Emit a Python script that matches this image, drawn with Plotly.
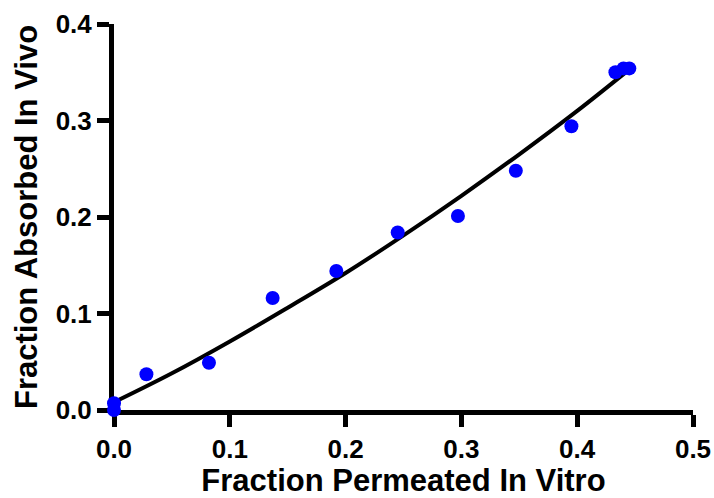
import plotly.graph_objects as go

# Measured fraction permeated in vitro vs fraction absorbed in vivo
frac_permeated = [0.0, 0.0, 0.028, 0.082, 0.137, 0.192, 0.245, 0.297, 0.347, 0.395, 0.433, 0.440, 0.445]
frac_absorbed = [0.000, 0.007, 0.037, 0.049, 0.116, 0.144, 0.184, 0.201, 0.248, 0.294, 0.350, 0.354, 0.354]

# Fitted correlation curve, sampled along x
fit_x = [0.0, 0.05, 0.10, 0.15, 0.20, 0.25, 0.30, 0.35, 0.40, 0.444]
fit_y = [0.008, 0.038, 0.071, 0.106, 0.142, 0.181, 0.222, 0.265, 0.310, 0.352]

x_ticks = [0.0, 0.1, 0.2, 0.3, 0.4, 0.5]
y_ticks = [0.0, 0.1, 0.2, 0.3, 0.4]

FONT = "Liberation Sans, Arial, sans-serif"

fig = go.Figure()
fig.add_trace(go.Scatter(
    x=fit_x, y=fit_y, mode="lines",
    line=dict(color="black", width=4, shape="spline"),
    cliponaxis=False, hoverinfo="skip",
))
fig.add_trace(go.Scatter(
    x=frac_permeated, y=frac_absorbed, mode="markers",
    marker=dict(color="#0000FF", size=14, line=dict(width=0)),
    cliponaxis=False,
))

axis_common = dict(
    showgrid=False, zeroline=False,
    showline=True, linecolor="black", linewidth=5,
    ticks="outside", ticklen=12, tickwidth=5, tickcolor="black",
    tickformat=".1f",
    tickfont=dict(family=FONT, size=26, color="black", weight="bold"),
    ticklabeloverflow="allow",
    automargin=False,
    layer="below traces",
)

fig.update_layout(
    width=714, height=498,
    margin=dict(l=114, r=21, t=24, b=88),
    paper_bgcolor="white", plot_bgcolor="white",
    showlegend=False,
    xaxis=dict(
        range=[0, 0.5], tickvals=x_ticks,
        title=dict(text="Fraction Permeated In Vitro", standoff=14,
                   font=dict(family=FONT, size=31, color="black", weight="bold")),
        **axis_common,
    ),
    yaxis=dict(
        range=[0, 0.4], tickvals=y_ticks,
        title=dict(text="Fraction Absorbed In Vivo", standoff=10,
                   font=dict(family=FONT, size=31, color="black", weight="bold")),
        **axis_common,
    ),
)

fig.write_html("out.html")
